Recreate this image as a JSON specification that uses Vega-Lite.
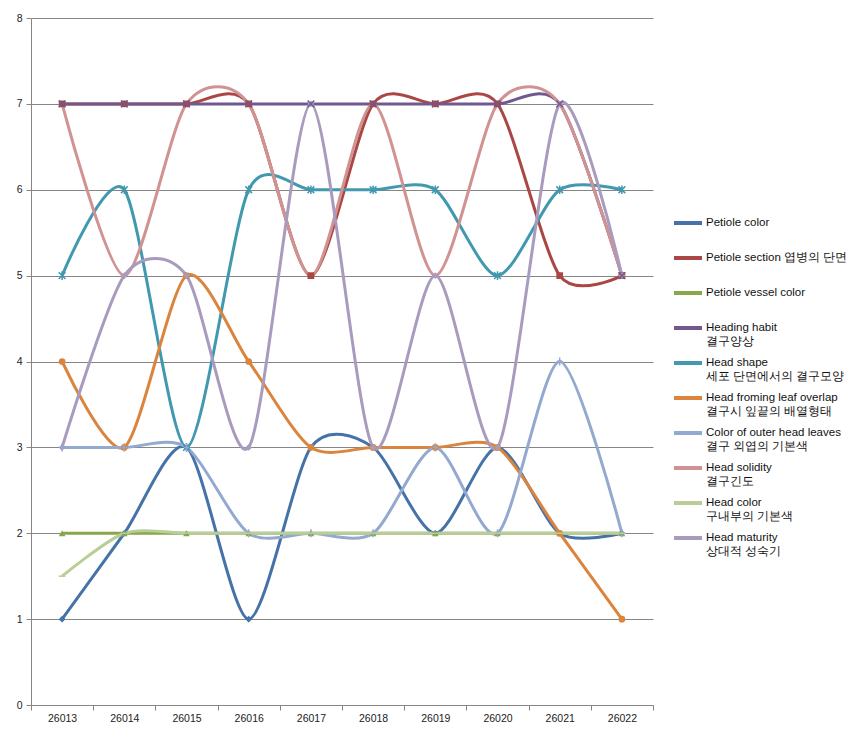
{
  "$schema": "https://vega.github.io/schema/vega-lite/v6.json",
  "width": 622,
  "height": 687,
  "autosize": {"type": "none"},
  "padding": {"left": 31, "top": 18, "right": 211, "bottom": 32},
  "background": "white",
  "config": {
    "view": {"stroke": null},
    "font": "Liberation Sans",
    "axis": {
      "domainColor": "#868686",
      "tickColor": "#868686",
      "gridColor": "#868686",
      "labelColor": "#222222",
      "labelFont": "Liberation Sans",
      "labelFontSize": 10.5,
      "tickSize": 5,
      "title": null
    }
  },
  "data": {
    "values": [
      {"s": "PC", "x": "26013", "v": 1}, {"s": "PC", "x": "26014", "v": 2}, {"s": "PC", "x": "26015", "v": 3}, {"s": "PC", "x": "26016", "v": 1}, {"s": "PC", "x": "26017", "v": 3}, {"s": "PC", "x": "26018", "v": 3}, {"s": "PC", "x": "26019", "v": 2}, {"s": "PC", "x": "26020", "v": 3}, {"s": "PC", "x": "26021", "v": 2}, {"s": "PC", "x": "26022", "v": 2},
      {"s": "PS", "x": "26013", "v": 7}, {"s": "PS", "x": "26014", "v": 7}, {"s": "PS", "x": "26015", "v": 7}, {"s": "PS", "x": "26016", "v": 7}, {"s": "PS", "x": "26017", "v": 5}, {"s": "PS", "x": "26018", "v": 7}, {"s": "PS", "x": "26019", "v": 7}, {"s": "PS", "x": "26020", "v": 7}, {"s": "PS", "x": "26021", "v": 5}, {"s": "PS", "x": "26022", "v": 5},
      {"s": "PV", "x": "26013", "v": 2}, {"s": "PV", "x": "26014", "v": 2}, {"s": "PV", "x": "26015", "v": 2}, {"s": "PV", "x": "26016", "v": 2}, {"s": "PV", "x": "26017", "v": 2}, {"s": "PV", "x": "26018", "v": 2}, {"s": "PV", "x": "26019", "v": 2}, {"s": "PV", "x": "26020", "v": 2}, {"s": "PV", "x": "26021", "v": 2}, {"s": "PV", "x": "26022", "v": 2},
      {"s": "HH", "x": "26013", "v": 7}, {"s": "HH", "x": "26014", "v": 7}, {"s": "HH", "x": "26015", "v": 7}, {"s": "HH", "x": "26016", "v": 7}, {"s": "HH", "x": "26017", "v": 7}, {"s": "HH", "x": "26018", "v": 7}, {"s": "HH", "x": "26019", "v": 7}, {"s": "HH", "x": "26020", "v": 7}, {"s": "HH", "x": "26021", "v": 7}, {"s": "HH", "x": "26022", "v": 5},
      {"s": "HS", "x": "26013", "v": 5}, {"s": "HS", "x": "26014", "v": 6}, {"s": "HS", "x": "26015", "v": 3}, {"s": "HS", "x": "26016", "v": 6}, {"s": "HS", "x": "26017", "v": 6}, {"s": "HS", "x": "26018", "v": 6}, {"s": "HS", "x": "26019", "v": 6}, {"s": "HS", "x": "26020", "v": 5}, {"s": "HS", "x": "26021", "v": 6}, {"s": "HS", "x": "26022", "v": 6},
      {"s": "HF", "x": "26013", "v": 4}, {"s": "HF", "x": "26014", "v": 3}, {"s": "HF", "x": "26015", "v": 5}, {"s": "HF", "x": "26016", "v": 4}, {"s": "HF", "x": "26017", "v": 3}, {"s": "HF", "x": "26018", "v": 3}, {"s": "HF", "x": "26019", "v": 3}, {"s": "HF", "x": "26020", "v": 3}, {"s": "HF", "x": "26021", "v": 2}, {"s": "HF", "x": "26022", "v": 1},
      {"s": "CO", "x": "26013", "v": 3}, {"s": "CO", "x": "26014", "v": 3}, {"s": "CO", "x": "26015", "v": 3}, {"s": "CO", "x": "26016", "v": 2}, {"s": "CO", "x": "26017", "v": 2}, {"s": "CO", "x": "26018", "v": 2}, {"s": "CO", "x": "26019", "v": 3}, {"s": "CO", "x": "26020", "v": 2}, {"s": "CO", "x": "26021", "v": 4}, {"s": "CO", "x": "26022", "v": 2},
      {"s": "SO", "x": "26013", "v": 7}, {"s": "SO", "x": "26014", "v": 5}, {"s": "SO", "x": "26015", "v": 7}, {"s": "SO", "x": "26016", "v": 7}, {"s": "SO", "x": "26017", "v": 5}, {"s": "SO", "x": "26018", "v": 7}, {"s": "SO", "x": "26019", "v": 5}, {"s": "SO", "x": "26020", "v": 7}, {"s": "SO", "x": "26021", "v": 7}, {"s": "SO", "x": "26022", "v": 5},
      {"s": "HC", "x": "26013", "v": 1.5}, {"s": "HC", "x": "26014", "v": 2}, {"s": "HC", "x": "26015", "v": 2}, {"s": "HC", "x": "26016", "v": 2}, {"s": "HC", "x": "26017", "v": 2}, {"s": "HC", "x": "26018", "v": 2}, {"s": "HC", "x": "26019", "v": 2}, {"s": "HC", "x": "26020", "v": 2}, {"s": "HC", "x": "26021", "v": 2}, {"s": "HC", "x": "26022", "v": 2},
      {"s": "HM", "x": "26013", "v": 3}, {"s": "HM", "x": "26014", "v": 5}, {"s": "HM", "x": "26015", "v": 5}, {"s": "HM", "x": "26016", "v": 3}, {"s": "HM", "x": "26017", "v": 7}, {"s": "HM", "x": "26018", "v": 3}, {"s": "HM", "x": "26019", "v": 5}, {"s": "HM", "x": "26020", "v": 3}, {"s": "HM", "x": "26021", "v": 7}, {"s": "HM", "x": "26022", "v": 5}
    ]
  },
  "encoding": {
    "x": {
      "field": "x", "type": "ordinal",
      "scale": {"paddingInner": 0, "paddingOuter": 0},
      "axis": {"labelAngle": 0, "tickBand": "extent", "labelPadding": 3, "grid": false}
    },
    "y": {
      "field": "v", "type": "quantitative",
      "scale": {"domain": [0, 8], "nice": false, "zero": true},
      "axis": {"values": [0, 1, 2, 3, 4, 5, 6, 7, 8], "grid": true, "gridWidth": 1, "labelPadding": 4}
    }
  },
  "resolve": {"legend": {"color": "independent", "shape": "independent"}},
  "layer": [
    {
      "mark": {"type": "line", "interpolate": "cardinal", "tension": 0.2, "strokeWidth": 3},
      "encoding": {
        "color": {
          "field": "s", "type": "nominal",
          "scale": {
            "domain": ["PC", "PS", "PV", "HH", "HS", "HF", "CO", "SO", "HC", "HM"],
            "range": ["#4572A7", "#AA4643", "#89A54E", "#71588F", "#4198AF", "#DB843D", "#93A9CF", "#D19392", "#B9CD96", "#A99BBD"]
          },
          "legend": {
            "orient": "none",
            "legendX": 641,
            "legendY": 189,
            "title": null,
            "symbolType": "stroke",
            "symbolSize": 784,
            "symbolStrokeWidth": 4,
            "labelFont": "Liberation Sans",
            "labelFontSize": 11.5,
            "labelColor": "#111111",
            "labelOffset": 2,
            "labelBaseline": "middle",
            "labelLimit": 300,
            "rowPadding": -13.4,
            "labelExpr": "{'PC': ['Petiole color', ''], 'PS': ['Petiole section 엽병의 단면', ''], 'PV': ['Petiole vessel color', ''], 'HH': ['Heading habit', ' 결구양상'], 'HS': ['Head shape', ' 세포 단면에서의 결구모양'], 'HF': ['Head froming leaf overlap', ' 결구시 잎끝의 배열형태'], 'CO': [' Color of outer head leaves', ' 결구 외엽의 기본색'], 'SO': ['Head solidity', ' 결구긴도'], 'HC': ['Head color', ' 구내부의 기본색'], 'HM': ['Head maturity', ' 상대적 성숙기']}[datum.label]"
          }
        }
      }
    },
    {
      "transform": [
        {"filter": "indexof(['PC','PS','PV','HF','HM'], datum.s) >= 0"}
      ],
      "mark": {"type": "point", "filled": true, "opacity": 1, "size": 45},
      "encoding": {
        "color": {"field": "s", "type": "nominal", "legend": null},
        "shape": {
          "field": "s", "type": "nominal", "legend": null,
          "scale": {
            "domain": ["PC", "PS", "PV", "HH", "HS", "HF", "CO", "SO", "HC", "HM"],
            "range": ["diamond", "square", "triangle-up", "M-1,-1L1,1M-1,1L1,-1", "M-1,-1L1,1M-1,1L1,-1M0,-1.3L0,1.3", "circle", "M0,-1.2L0,1.2M-0.8,0L0.8,0", "circle", "M-1,0L1,0", "diamond"]
          }
        }
      }
    },
    {
      "transform": [
        {"filter": "indexof(['HH','HS','CO','HC'], datum.s) >= 0"}
      ],
      "mark": {"type": "point", "filled": false, "opacity": 1, "size": 45, "strokeWidth": 1.5},
      "encoding": {
        "color": {"field": "s", "type": "nominal", "legend": null},
        "shape": {"field": "s", "type": "nominal", "legend": null}
      }
    }
  ]
}
